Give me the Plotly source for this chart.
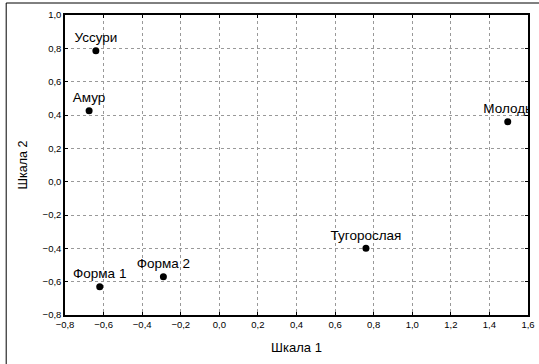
import plotly.graph_objects as go

names = ["Уссури", "Амур", "Форма 1", "Форма 2", "Тугорослая", "Молодь"]
scale1 = [-0.64, -0.675, -0.62, -0.29, 0.76, 1.495]
scale2 = [0.785, 0.425, -0.63, -0.57, -0.40, 0.36]

x_ticks = [-0.8, -0.6, -0.4, -0.2, 0.0, 0.2, 0.4, 0.6, 0.8, 1.0, 1.2, 1.4, 1.6]
y_ticks = [-0.8, -0.6, -0.4, -0.2, 0.0, 0.2, 0.4, 0.6, 0.8, 1.0]

FONT = "Liberation Sans, Arial"

fig = go.Figure()
fig.add_trace(go.Scatter(
    x=scale1, y=scale2, text=names, mode="markers+text",
    textposition="top center",
    marker=dict(color="black", size=7),
    textfont=dict(family=FONT, size=13.5, color="black"),
    cliponaxis=True, showlegend=False,
))

axis_common = dict(
    showline=True, linecolor="black", linewidth=1.5, mirror="ticks",
    ticks="inside", ticklen=3, tickcolor="black",
    showgrid=True, gridcolor="#999999", griddash="dot", gridwidth=1,
    zeroline=False, tickformat=".1f",
    tickfont=dict(family=FONT, size=9.5, color="black"),
)

fig.update_xaxes(range=[-0.8, 1.6], tickvals=x_ticks, **axis_common,
                 title=dict(text="Шкала 1", standoff=14,
                            font=dict(family=FONT, size=13, color="black")))
fig.update_yaxes(range=[-0.8, 1.0], tickvals=y_ticks, **axis_common,
                 title=dict(text="Шкала 2", standoff=12,
                            font=dict(family=FONT, size=12.5, color="black")))

fig.update_layout(
    width=539, height=364,
    margin=dict(l=65, r=11, t=15, b=49, autoexpand=False),
    paper_bgcolor="white", plot_bgcolor="white",
    separators=", ",
    shapes=[
        dict(type="line", xref="paper", yref="paper", x0=-0.127, x1=1.03, y0=1.04, y1=1.04,
             line=dict(color="black", width=1)),
        dict(type="line", xref="paper", yref="paper", x0=-0.127, x1=-0.127, y0=1.04, y1=-0.17,
             line=dict(color="black", width=1)),
    ],
)

fig.write_html("out.html", config={"displayModeBar": False},
               post_script="document.body.style.margin='0px';")
